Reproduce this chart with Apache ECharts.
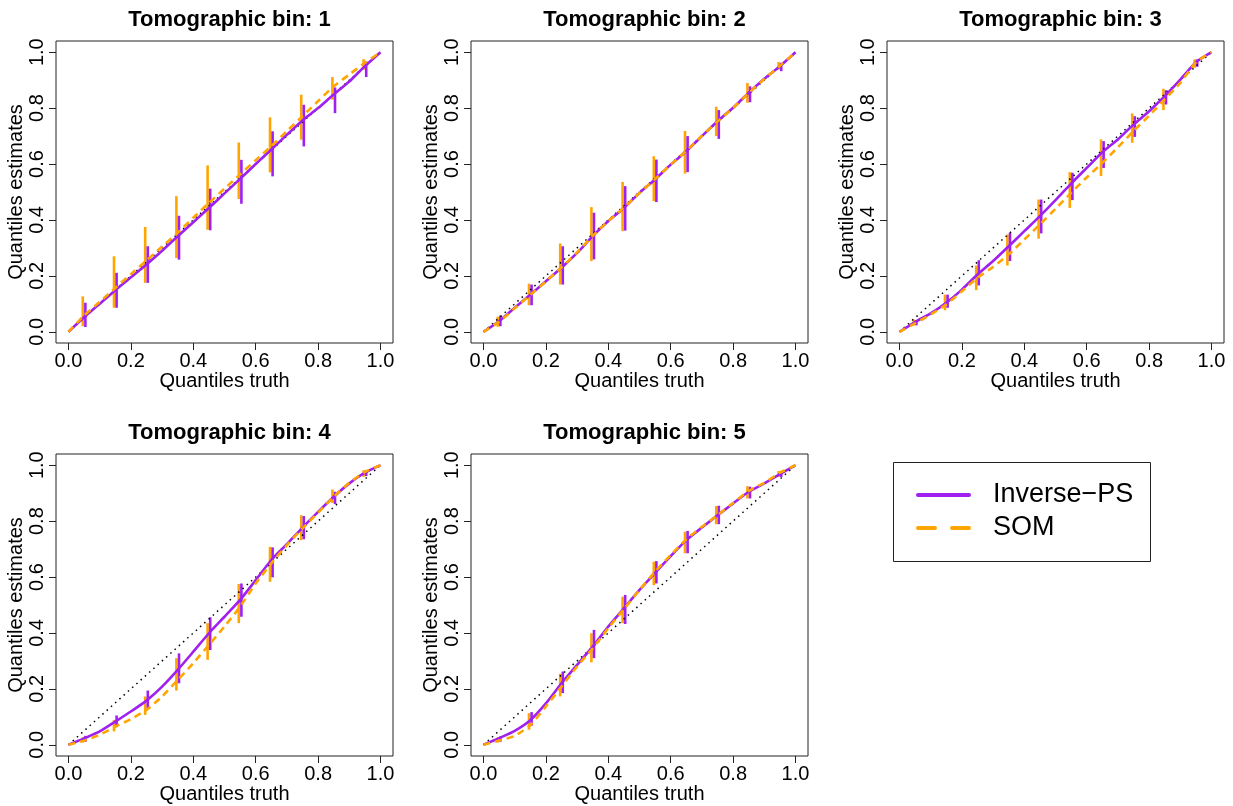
<!DOCTYPE html>
<html>
<head>
<meta charset="utf-8">
<script src="https://cdn.jsdelivr.net/npm/echarts@6/dist/echarts.min.js"></script>
<style>
html,body{margin:0;padding:0;background:#fff;}
#chart{width:1233px;height:806px;}
</style>
</head>
<body>
<div id="chart"></div>
<script>
// ---- data ----
const binTitles = ['Tomographic bin: 1','Tomographic bin: 2','Tomographic bin: 3','Tomographic bin: 4','Tomographic bin: 5'];
const seriesNames = ['Inverse\u2212PS', 'SOM'];
const tickValues = [0, 0.2, 0.4, 0.6, 0.8, 1.0];
const diagonal = [0, 1];
const truthGrid = [0,0.05,0.1,0.15,0.2,0.25,0.3,0.35,0.4,0.45,0.5,0.55,0.6,0.65,0.7,0.75,0.8,0.85,0.9,0.95,1.0];
const barX = [0.05,0.15,0.25,0.35,0.45,0.55,0.65,0.75,0.85,0.95];

// bin 1
const ipsCurve1 = [0,0.052,0.100,0.149,0.195,0.241,0.290,0.342,0.392,0.443,0.495,0.547,0.600,0.652,0.705,0.756,0.800,0.849,0.895,0.950,1.0];
const somCurve1 = [0,0.058,0.107,0.157,0.206,0.255,0.305,0.354,0.408,0.461,0.512,0.563,0.614,0.664,0.718,0.771,0.825,0.878,0.920,0.962,1.0];
const ipsLo1 = [0.017,0.086,0.175,0.258,0.363,0.458,0.556,0.663,0.782,0.911];
const ipsHi1 = [0.104,0.211,0.306,0.415,0.512,0.615,0.717,0.812,0.874,0.967];
const somLo1 = [0.020,0.086,0.175,0.264,0.365,0.475,0.570,0.687,0.830,0.937];
const somHi1 = [0.127,0.270,0.375,0.485,0.595,0.677,0.767,0.848,0.911,0.975];
// bin 2
const ipsCurve2 = [0,0.038,0.086,0.133,0.181,0.229,0.282,0.342,0.396,0.443,0.497,0.545,0.598,0.646,0.700,0.753,0.801,0.855,0.905,0.950,1.0];
const somCurve2 = [0,0.036,0.084,0.132,0.180,0.230,0.284,0.343,0.396,0.444,0.497,0.546,0.598,0.647,0.701,0.752,0.801,0.854,0.904,0.951,1.0];
const ipsLo2 = [0.020,0.095,0.169,0.259,0.362,0.464,0.571,0.690,0.821,0.932];
const ipsHi2 = [0.058,0.169,0.306,0.426,0.521,0.616,0.700,0.793,0.878,0.962];
const somLo2 = [0.018,0.095,0.169,0.253,0.360,0.467,0.566,0.700,0.819,0.938];
const somHi2 = [0.054,0.172,0.316,0.446,0.536,0.628,0.718,0.805,0.890,0.965];
// bin 3
const ipsCurve3 = [0,0.035,0.066,0.104,0.151,0.205,0.253,0.306,0.360,0.414,0.471,0.530,0.586,0.642,0.688,0.741,0.789,0.843,0.902,0.964,1.0];
const somCurve3 = [0,0.030,0.062,0.098,0.145,0.193,0.232,0.277,0.330,0.384,0.440,0.497,0.552,0.604,0.660,0.718,0.773,0.831,0.890,0.964,1.0];
const ipsLo3 = [0.023,0.086,0.166,0.253,0.352,0.471,0.586,0.697,0.813,0.948];
const ipsHi3 = [0.042,0.133,0.256,0.354,0.473,0.569,0.682,0.771,0.864,0.974];
const somLo3 = [0.023,0.077,0.149,0.237,0.333,0.443,0.557,0.676,0.793,0.944];
const somHi3 = [0.044,0.133,0.237,0.348,0.473,0.571,0.688,0.781,0.869,0.974];
// bin 4
const ipsCurve4 = [0,0.023,0.048,0.083,0.119,0.158,0.208,0.268,0.333,0.399,0.458,0.518,0.589,0.661,0.718,0.777,0.833,0.887,0.935,0.973,1.0];
const somCurve4 = [0,0.015,0.036,0.065,0.092,0.125,0.173,0.232,0.292,0.357,0.423,0.494,0.577,0.649,0.714,0.774,0.830,0.887,0.937,0.976,1.0];
const ipsLo4 = [0.011,0.063,0.129,0.220,0.339,0.458,0.599,0.735,0.861,0.961];
const ipsHi4 = [0.032,0.105,0.194,0.327,0.456,0.577,0.706,0.818,0.905,0.982];
const somLo4 = [0.008,0.048,0.107,0.194,0.304,0.435,0.583,0.732,0.865,0.958];
const somHi4 = [0.027,0.089,0.173,0.310,0.435,0.575,0.708,0.821,0.913,0.982];
// bin 5
const ipsCurve5 = [0,0.024,0.050,0.088,0.148,0.220,0.286,0.351,0.423,0.488,0.554,0.615,0.675,0.732,0.777,0.821,0.863,0.905,0.935,0.968,1.0];
const somCurve5 = [0,0.015,0.032,0.070,0.137,0.208,0.280,0.345,0.417,0.485,0.554,0.619,0.679,0.735,0.780,0.821,0.865,0.908,0.937,0.973,1.0];
const ipsLo5 = [0.011,0.068,0.185,0.310,0.432,0.577,0.685,0.789,0.881,0.958];
const ipsHi5 = [0.030,0.117,0.262,0.411,0.536,0.657,0.765,0.855,0.923,0.979];
const somLo5 = [0.008,0.054,0.173,0.295,0.435,0.571,0.685,0.789,0.881,0.958];
const somHi5 = [0.027,0.113,0.254,0.399,0.530,0.655,0.762,0.854,0.925,0.979];

const ipsCurves = [ipsCurve1, ipsCurve2, ipsCurve3, ipsCurve4, ipsCurve5];
const somCurves = [somCurve1, somCurve2, somCurve3, somCurve4, somCurve5];
const ipsLos = [ipsLo1, ipsLo2, ipsLo3, ipsLo4, ipsLo5];
const ipsHis = [ipsHi1, ipsHi2, ipsHi3, ipsHi4, ipsHi5];
const somLos = [somLo1, somLo2, somLo3, somLo4, somLo5];
const somHis = [somHi1, somHi2, somHi3, somHi4, somHi5];

// ---- layout / style ----
const PURPLE = '#A020F0';
const ORANGE = '#FFA500';
const FONT = '"Liberation Sans", Arial, Helvetica, sans-serif';
const panels = [
  {left: 56, top: 41}, {left: 471, top: 41}, {left: 887, top: 41},
  {left: 56, top: 454}, {left: 471, top: 454}
];
const GW = 337, GH = 302;

function barRenderer(offsetPx, color) {
  return function (params, api) {
    const x = api.value(0), lo = api.value(1), hi = api.value(2);
    const p1 = api.coord([x, lo]);
    const p2 = api.coord([x, hi]);
    return {
      type: 'line',
      shape: {x1: p1[0] + offsetPx, y1: p1[1], x2: p2[0] + offsetPx, y2: p2[1]},
      style: {stroke: color, lineWidth: 2.6, lineCap: 'butt'}
    };
  };
}

const grids = [], xAxes = [], yAxes = [], titles = [], series = [];
panels.forEach((p, i) => {
  grids.push({left: p.left, top: p.top, width: GW, height: GH, show: true,
    borderColor: '#222', borderWidth: 1, backgroundColor: 'transparent',
    containLabel: false, outerBoundsMode: 'none'});
  titles.push({text: binTitles[i], left: p.left + GW / 2, top: p.top - 37, textAlign: 'center',
    textStyle: {fontFamily: FONT, fontSize: 22, fontWeight: 'bold', color: '#000'}});
  const axisCommon = {
    type: 'value', min: -0.04, max: 1.04, gridIndex: i,
    splitLine: {show: false},
    axisLine: {show: false, onZero: false},
    axisTick: {show: true, inside: false, length: 7, customValues: tickValues,
      lineStyle: {color: '#222', width: 1}},
    nameLocation: 'middle',
    nameTextStyle: {fontFamily: FONT, fontSize: 20, color: '#000'}
  };
  xAxes.push(Object.assign({}, axisCommon, {
    position: 'bottom',
    name: 'Quantiles truth', nameGap: 26,
    axisLabel: {show: true, customValues: tickValues, margin: 8,
      formatter: v => v.toFixed(1), fontFamily: FONT, fontSize: 20, color: '#000'}
  }));
  yAxes.push(Object.assign({}, axisCommon, {
    position: 'left',
    name: 'Quantiles estimates', nameGap: 22,
    axisLabel: {show: true, customValues: tickValues, margin: 9, rotate: 90,
      formatter: v => v.toFixed(1), fontFamily: FONT, fontSize: 20, color: '#000'}
  }));
  series.push({
    type: 'line', xAxisIndex: i, yAxisIndex: i, symbol: 'none', silent: true,
    data: [[diagonal[0], diagonal[0]], [diagonal[1], diagonal[1]]],
    lineStyle: {color: '#000', width: 1.5, type: [1.5, 4.2]}
  });
  series.push({
    name: seriesNames[0], type: 'line', xAxisIndex: i, yAxisIndex: i, symbol: 'none',
    smooth: 0.2,
    data: truthGrid.map((x, k) => [x, ipsCurves[i][k]]),
    lineStyle: {color: PURPLE, width: 2.6, type: 'solid'}, itemStyle: {color: PURPLE}
  });
  series.push({
    name: seriesNames[1], type: 'line', xAxisIndex: i, yAxisIndex: i, symbol: 'none',
    smooth: 0.2,
    data: truthGrid.map((x, k) => [x, somCurves[i][k]]),
    lineStyle: {color: ORANGE, width: 2.6, type: [7, 5]}, itemStyle: {color: ORANGE}
  });
  series.push({
    name: seriesNames[1] + ' bars', type: 'custom', xAxisIndex: i, yAxisIndex: i,
    renderItem: barRenderer(-1.3, ORANGE), encode: {x: 0, y: [1, 2]},
    data: barX.map((x, k) => [x, somLos[i][k], somHis[i][k]])
  });
  series.push({
    name: seriesNames[0] + ' bars', type: 'custom', xAxisIndex: i, yAxisIndex: i,
    renderItem: barRenderer(1.3, PURPLE), encode: {x: 0, y: [1, 2]},
    data: barX.map((x, k) => [x, ipsLos[i][k], ipsHis[i][k]])
  });
});

// legend drawn as graphic elements
const legendGraphic = [
  {type: 'rect', left: 893, top: 462, shape: {width: 257, height: 99},
    style: {fill: '#fff', stroke: '#222', lineWidth: 1}, z: 10},
  {type: 'line', shape: {x1: 918, y1: 495, x2: 969, y2: 495},
    style: {stroke: PURPLE, lineWidth: 4, lineCap: 'round'}, z: 11},
  {type: 'line', shape: {x1: 918, y1: 528, x2: 969, y2: 528},
    style: {stroke: ORANGE, lineWidth: 4, lineDash: [17, 17], lineCap: 'round'}, z: 11},
  {type: 'text', x: 993, y: 495, style: {text: seriesNames[0], fontFamily: FONT, fontSize: 27,
    fill: '#000', textVerticalAlign: 'middle', verticalAlign: 'middle'}, z: 11},
  {type: 'text', x: 993, y: 528, style: {text: seriesNames[1], fontFamily: FONT, fontSize: 27,
    fill: '#000', textVerticalAlign: 'middle', verticalAlign: 'middle'}, z: 11}
];

const chart = echarts.init(document.getElementById('chart'), null, {renderer: 'canvas'});
chart.setOption({
  animation: false,
  backgroundColor: '#fff',
  title: titles,
  grid: grids,
  xAxis: xAxes,
  yAxis: yAxes,
  graphic: legendGraphic,
  series: series
});
</script>
</body>
</html>
